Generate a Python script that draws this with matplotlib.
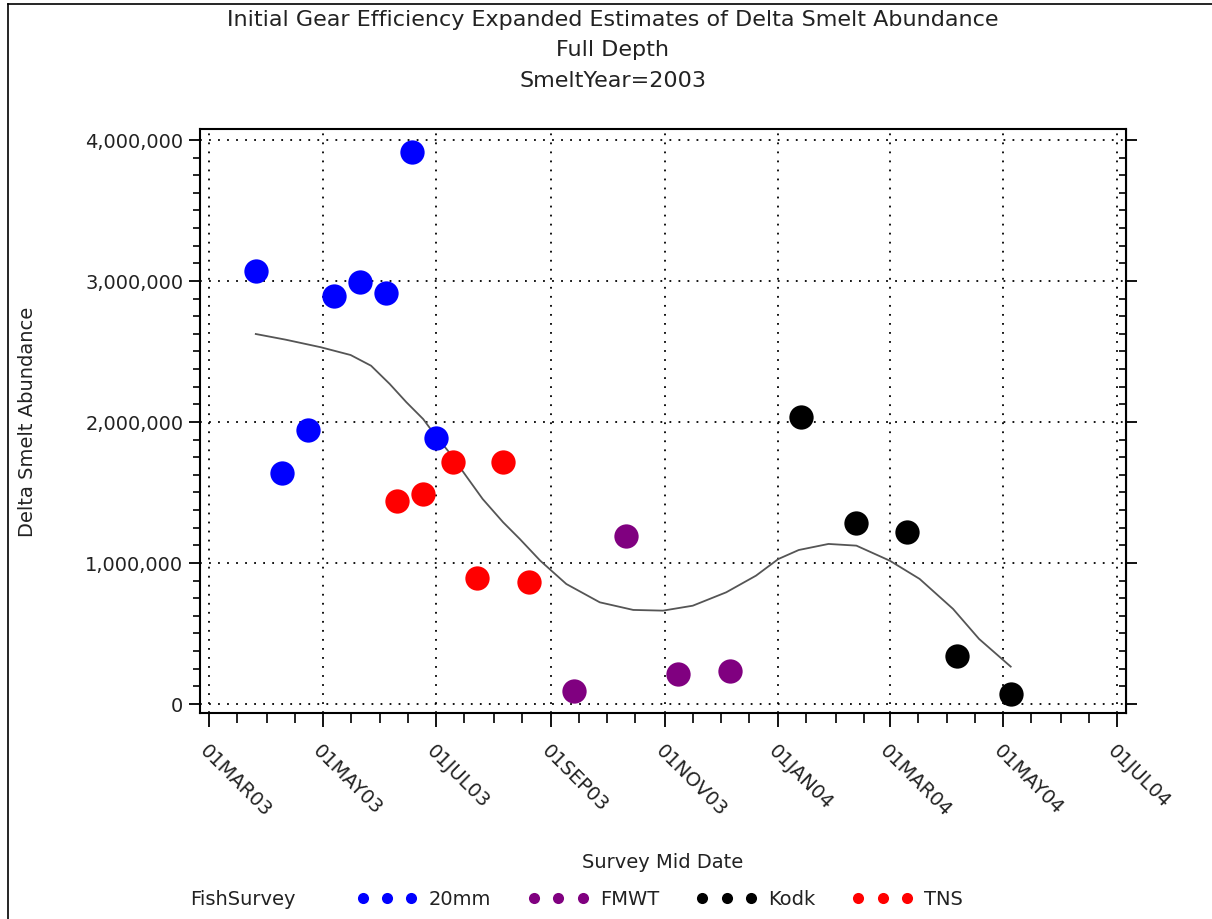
import numpy as np
import pandas as pd
import matplotlib
matplotlib.use("Agg")
import matplotlib.pyplot as plt
import matplotlib.dates as mdates
import matplotlib.ticker as mticker
from matplotlib.lines import Line2D

# survey points
d_20mm = ["2003-03-26", "2003-04-09", "2003-04-23", "2003-05-07", "2003-05-21",
          "2003-06-04", "2003-06-18", "2003-07-01"]
v_20mm = [3073000, 1638000, 1943000, 2896000, 2991000, 2915000, 3913000, 1887000]

d_tns = ["2003-06-10", "2003-06-24", "2003-07-10", "2003-07-23", "2003-08-06", "2003-08-20"]
v_tns = [1437000, 1489000, 1714000, 891000, 1714000, 863000]

d_fmwt = ["2003-09-13", "2003-10-11", "2003-11-08", "2003-12-06"]
v_fmwt = [92000, 1194000, 213000, 232000]

d_kodk = ["2004-01-13", "2004-02-12", "2004-03-10", "2004-04-06", "2004-05-05"]
v_kodk = [2033000, 1284000, 1218000, 338000, 71000]

# smoothed curve
d_curve = ["2003-03-26", "2003-04-11", "2003-04-30", "2003-05-16", "2003-05-27",
           "2003-06-06", "2003-06-15", "2003-06-24", "2003-06-30", "2003-07-08",
           "2003-07-17", "2003-07-26", "2003-08-06", "2003-08-15", "2003-08-26",
           "2003-09-09", "2003-09-27", "2003-10-15", "2003-10-31", "2003-11-16",
           "2003-12-04", "2003-12-20", "2004-01-01", "2004-01-12", "2004-01-28",
           "2004-02-12", "2004-03-01", "2004-03-17", "2004-04-04", "2004-04-18",
           "2004-05-05"]
v_curve = [2624000, 2584000, 2530000, 2475000, 2399000, 2270000, 2140000, 2021000,
           1915000, 1785000, 1619000, 1454000, 1289000, 1170000, 1016000, 851000,
           721000, 667000, 662000, 697000, 792000, 910000, 1028000, 1092000,
           1135000, 1123000, 1016000, 887000, 674000, 461000, 265000]

surveys = ["20mm", "FMWT", "Kodk", "TNS"]
colors = ["#0000ff", "#800080", "#000000", "#ff0000"]

txt = "#222222"
plt.rcParams['font.family'] = ['DejaVu Sans']

fig = plt.figure(figsize=(12.12, 9.2), dpi=100)
ax = fig.add_axes([200/1212, 1-714/920, (1126-200)/1212, (714-130)/920])

# outer frame of the page
fig.add_artist(Line2D([8/1212, 1.0], [1-5/920, 1-5/920], transform=fig.transFigure, color="k", lw=1.2))
fig.add_artist(Line2D([8/1212, 8/1212], [1-5/920, 0.0], transform=fig.transFigure, color="k", lw=1.2))

ax.plot(pd.to_datetime(d_curve), v_curve, color="#555555", lw=1.3, zorder=2,
        solid_joinstyle="round")

data = {"20mm": (d_20mm, v_20mm), "FMWT": (d_fmwt, v_fmwt),
        "Kodk": (d_kodk, v_kodk), "TNS": (d_tns, v_tns)}
for name, col in zip(surveys, colors):
    dd, vv = data[name]
    ax.plot(pd.to_datetime(dd), vv, ls="", marker="o", ms=17.5, color=col,
            markeredgewidth=0, zorder=3)

ax.set_xlim(pd.Timestamp("2003-03-01") - pd.Timedelta(days=5),
            pd.Timestamp("2004-07-01") + pd.Timedelta(days=5))
ax.set_ylim(-64000, 4078000)

ax.xaxis.set_major_locator(mdates.MonthLocator(bymonth=[1, 3, 5, 7, 9, 11]))
ax.xaxis.set_minor_locator(mdates.DayLocator(bymonthday=[1, 16]))
ax.xaxis.set_major_formatter(mticker.FuncFormatter(
    lambda x, pos: mdates.num2date(x).strftime("%d%b%y").upper()))
ax.yaxis.set_major_locator(mticker.MultipleLocator(1000000))
ax.yaxis.set_minor_locator(mticker.AutoMinorLocator(8))
ax.yaxis.set_major_formatter(mticker.FuncFormatter(lambda v, pos: f"{int(v):,}"))

ax.grid(True, which="major", color="k", ls=(0, (1, 4)), lw=1.3)
for s in ax.spines.values():
    s.set_linewidth(1.5)

ax.tick_params(axis="both", which="major", labelsize=14, labelcolor=txt, width=1.3)
ax.tick_params(axis="x", which="major", length=10, pad=10)
ax.tick_params(axis="x", which="minor", length=7, width=1.2)
ax.tick_params(axis="y", which="major", length=8, pad=4)
ax.tick_params(axis="y", which="minor", length=5, width=1.2)
for lab in ax.get_xticklabels():
    lab.set_rotation(-45)
    lab.set_ha("left")
    lab.set_va("top")
    lab.set_rotation_mode("anchor")

# ticks on the right side too
sec = ax.secondary_yaxis("right")
sec.yaxis.set_major_locator(mticker.MultipleLocator(1000000))
sec.yaxis.set_minor_locator(mticker.AutoMinorLocator(8))
sec.tick_params(which="major", length=8, width=1.3, labelright=False)
sec.tick_params(which="minor", direction="in", length=5, width=1.2)

ax.set_ylabel("Delta Smelt Abundance", fontsize=14, color=txt)
ax.yaxis.set_label_coords(-163/926, 0.5)
ax.set_xlabel("Survey Mid Date", fontsize=14, color=txt)
ax.xaxis.set_label_coords(0.5, -(853-714)/584)

fig.text(613/1212, 1-20/920, "Initial Gear Efficiency Expanded Estimates of Delta Smelt Abundance",
         ha="center", va="center", fontsize=16, color=txt)
fig.text(613/1212, 1-50/920, "Full Depth", ha="center", va="center", fontsize=16, color=txt)
fig.text(613/1212, 1-81/920, "SmeltYear=2003", ha="center", va="center", fontsize=16, color=txt)

# legend row at the bottom
fig.text(190/1212, 1-900/920, "FishSurvey", ha="left", va="center", fontsize=14, color=txt)
handles = [Line2D([], [], ls="", marker="o", ms=8, color=c, markeredgewidth=0) for c in colors]
fig.legend(handles, surveys, loc="center left", bbox_to_anchor=(357/1212, 1-900/920),
           ncol=4, frameon=False, numpoints=3, handlelength=3.1, handletextpad=0.6,
           columnspacing=1.9, borderpad=0, borderaxespad=0, fontsize=14, labelcolor=txt)

fig.savefig("out.png", dpi=100)
